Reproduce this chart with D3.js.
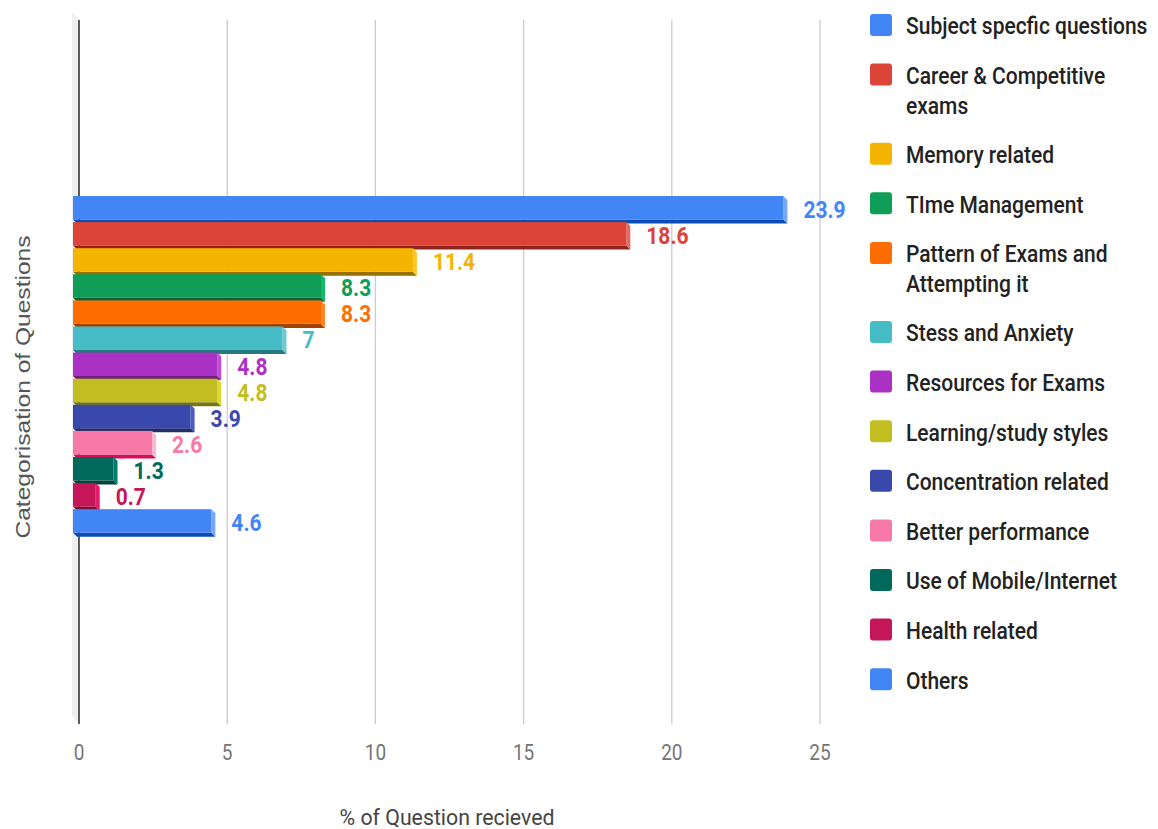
<!DOCTYPE html>
<html>
<head>
<meta charset="utf-8">
<script src="https://cdn.jsdelivr.net/npm/d3@7"></script>
<style>
  html, body { margin: 0; padding: 0; background: #fff; }
  svg { display: block; }
</style>
</head>
<body>
<svg id="chart" width="1158" height="829"></svg>
<script>
// ---------- data ----------
const categories = [
  "Subject specfic questions",
  "Career & Competitive exams",
  "Memory related",
  "TIme Management",
  "Pattern of Exams and Attempting it",
  "Stess and Anxiety",
  "Resources for Exams",
  "Learning/study styles",
  "Concentration related",
  "Better performance",
  "Use of Mobile/Internet",
  "Health related",
  "Others"
];
const values = [23.9, 18.6, 11.4, 8.3, 8.3, 7, 4.8, 4.8, 3.9, 2.6, 1.3, 0.7, 4.6];
const colors = ["#4285f4", "#db4437", "#f4b400", "#0f9d58", "#ff6d00", "#46bdc6",
                "#ab30c4", "#c2be22", "#3949ab", "#f779a8", "#00695c", "#c5165a", "#4285f4"];
const xTicks = [0, 5, 10, 15, 20, 25];
const xTitle = "% of Question recieved";
const yTitle = "Categorisation of Questions";

// ---------- layout ----------
const SY = 1.13; // vertical text stretch
const svg = d3.select("#chart");
const plotTop = 20, plotBottom = 724;
const x = d3.scaleLinear().domain([0, 25]).range([79, 820]);
const y = d3.scaleBand().domain(categories).range([196, 196 + 13 * 26.1]).padding(0);
const DX = 4, DY = 4;

// wall
svg.append("polygon")
  .attr("points", [[72, 12], [x(0), plotTop], [x(0), plotBottom], [72, plotBottom - 8]].join(" "))
  .attr("fill", "#efefef");

// gridlines
svg.append("g").selectAll("line").data(xTicks.filter(t => t !== 0)).join("line")
  .attr("x1", d => x(d)).attr("x2", d => x(d))
  .attr("y1", plotTop).attr("y2", plotBottom)
  .attr("stroke", "#cccccc").attr("stroke-width", 1.3);

// zero line
svg.append("line")
  .attr("x1", x(0)).attr("x2", x(0)).attr("y1", plotTop).attr("y2", plotBottom)
  .attr("stroke", "#333").attr("stroke-width", 1.6);

// tick labels
svg.append("g").selectAll("text").data(xTicks).join("text")
  .attr("transform", d => `translate(${x(d)},752) scale(1,1.2)`)
  .attr("text-anchor", "middle").attr("dominant-baseline", "central")
  .attr("font-family", "Roboto").attr("font-size", 19).attr("fill", "#757575")
  .text(d => d);

// axis titles
svg.append("text")
  .attr("transform", `translate(447,817) scale(1,1.05)`)
  .attr("text-anchor", "middle").attr("dominant-baseline", "central")
  .attr("font-family", "Roboto").attr("font-size", 21.3).attr("fill", "#444")
  .text(xTitle);

svg.append("text")
  .attr("transform", `translate(23,387) rotate(-90) scale(1.17,1)`)
  .attr("text-anchor", "middle").attr("dominant-baseline", "central")
  .attr("font-family", "Liberation Sans, Arial").attr("font-size", 21).attr("fill", "#555")
  .text(yTitle);

// bars
const bars = svg.append("g").selectAll("g").data(categories).join("g");
const fl = x(0) - 6;
function shade(c, k) { const h = d3.hsl(c); h.l = Math.max(0, Math.min(1, h.l * k)); return h.toString(); }
bars.each(function (d, i) {
  const g = d3.select(this);
  const fr = x(values[i]) - DX;
  const fy0 = y(d), fy1 = y(d) + 23.5;
  // bottom face
  g.append("polygon")
    .attr("points", [[fl, fy1], [fr, fy1], [fr + DX, fy1 + DY], [fl + DX, fy1 + DY]].join(" "))
    .attr("fill", shade(colors[i], 0.62));
  // side face
  g.append("polygon")
    .attr("points", [[fr, fy0], [fr + DX, fy0 + DY], [fr + DX, fy1 + DY], [fr, fy1]].join(" "))
    .attr("fill", shade(colors[i], 1.18));
  // front face
  g.append("rect")
    .attr("x", fl).attr("y", fy0).attr("width", fr - fl).attr("height", fy1 - fy0)
    .attr("fill", colors[i]);
});

// data labels
svg.append("g").selectAll("text").data(categories).join("text")
  .attr("transform", (d, i) => `translate(${x(values[i]) + 16},${y(d) + 13.5}) scale(1,${SY})`)
  .attr("dominant-baseline", "central")
  .attr("font-family", "Roboto").attr("font-weight", 700).attr("font-size", 21)
  .attr("fill", (d, i) => colors[i])
  .text((d, i) => values[i]);

// legend
const legend = svg.append("g");
let ly = 26;
const maxW = 1158 - 906 - 2;
categories.forEach((c, i) => {
  legend.append("rect")
    .attr("x", 870).attr("y", ly - 12).attr("width", 22).attr("height", 22)
    .attr("rx", 3).attr("fill", colors[i]);
  // wrap
  const words = c.split(" ");
  const lines = [];
  let cur = "";
  const probe = legend.append("text").attr("font-family", "Roboto").attr("font-weight", 500).attr("font-size", 21);
  words.forEach(w => {
    const test = cur ? cur + " " + w : w;
    probe.text(test);
    if (probe.node().getComputedTextLength() > maxW && cur) { lines.push(cur); cur = w; }
    else cur = test;
  });
  lines.push(cur);
  probe.remove();
  lines.forEach((ln, j) => {
    legend.append("text")
      .attr("transform", `translate(906,${ly + j * 29.5}) scale(1,${SY})`)
      .attr("dominant-baseline", "central")
      .attr("font-family", "Roboto").attr("font-weight", 500).attr("font-size", 21)
      .attr("fill", "#222")
      .text(ln);
  });
  ly += 49.6 + (lines.length - 1) * 29.5;
});
</script>
</body>
</html>
